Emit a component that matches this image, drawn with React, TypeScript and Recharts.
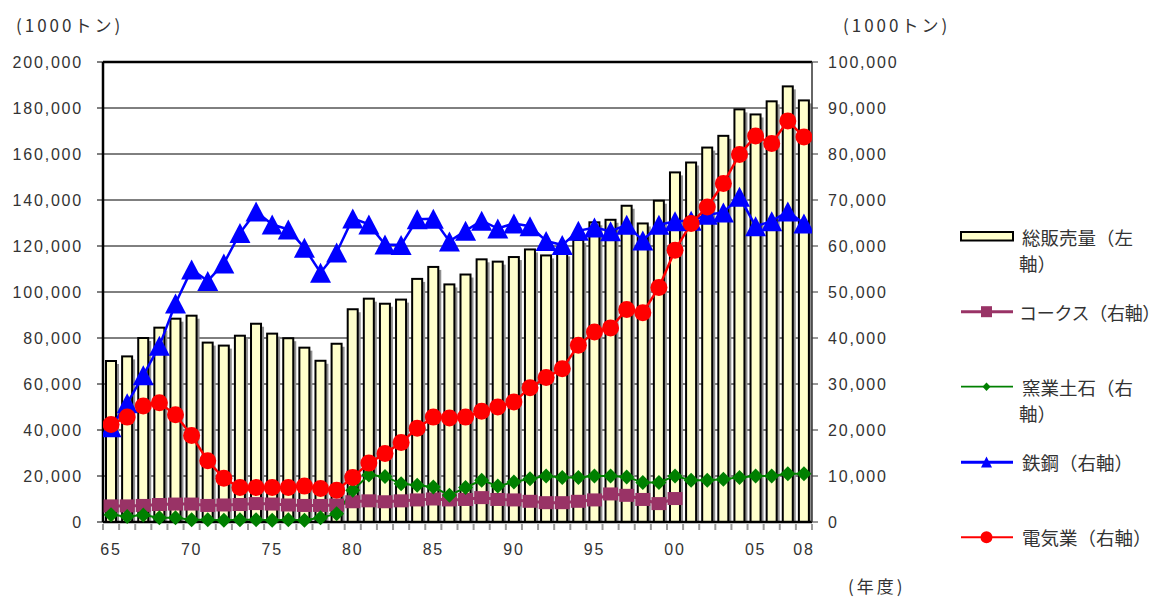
import React from 'react';
import { ComposedChart, Bar, Line, XAxis, YAxis, CartesianGrid, Legend, ReferenceLine } from 'recharts';

const years = [
  '1965','1966','1967','1968','1969','1970','1971','1972','1973','1974',
  '1975','1976','1977','1978','1979','1980','1981','1982','1983','1984',
  '1985','1986','1987','1988','1989','1990','1991','1992','1993','1994',
  '1995','1996','1997','1998','1999','2000','2001','2002','2003','2004',
  '2005','2006','2007','2008',
];
const labeledYears = ['1965','1970','1975','1980','1985','1990','1995','2000','2005','2008'];
const labeledTexts = ['65','70','75','80','85','90','95','00','05','08'];

const totalSales = [
  70000,72000,80000,84500,88400,89700,78000,76700,81000,86200,
  81900,79900,75800,70100,77500,92500,97100,94900,96700,105700,
  110900,103300,107600,114200,113200,115200,118500,115900,116800,122600,
  130300,131400,137500,129800,139700,152000,156300,162800,167900,179400,
  177200,182900,189400,183300,
];
const coke = [
  3500,3500,3600,3800,3900,3900,3600,3700,3800,4000,
  3900,3700,3600,3600,3700,4400,4600,4400,4600,4800,
  5000,4800,4900,5300,4900,4800,4500,4200,4200,4500,
  4800,6100,5800,4900,4000,5100,null,null,null,null,
  null,null,null,null,
];
const ceramics = [
  1600,1200,1500,900,900,500,500,400,500,500,
  400,500,400,900,1800,6900,10200,9900,8300,8000,
  7600,5800,7500,9100,7800,8700,9400,10000,9700,9700,
  10000,10000,9800,8600,8600,10000,9100,9100,9300,9700,
  10000,10000,10500,10500,
];
const steel = [
  20600,25800,31900,38300,47500,54900,52400,56200,62800,67500,
  64700,63600,59600,54200,58600,66000,64700,60300,60200,65800,
  65900,61000,63300,65500,63800,64900,64300,61100,60200,63300,
  64000,63200,64600,61200,64600,65400,65500,66800,67300,70700,
  64300,65400,67500,64900,
];
const electric = [
  21200,22800,25200,25900,23300,18800,13300,9500,7500,7500,
  7500,7500,7800,7300,6900,9700,12800,14900,17300,20400,
  22800,22600,22800,24100,25000,26100,29200,31400,33300,38400,
  41300,42200,46200,45500,51000,59100,64900,68500,73600,79900,
  83900,82300,87200,83700,
];

const leftTicks = [0,20000,40000,60000,80000,100000,120000,140000,160000,180000,200000];
const rightTicks = [0,10000,20000,30000,40000,50000,60000,70000,80000,90000,100000];

const seriesNames = {
  total: ['総販売量（左', '軸）'],
  coke: ['コークス（右軸）'],
  ceramics: ['窯業土石（右', '軸）'],
  steel: ['鉄鋼（右軸）'],
  electric: ['電気業（右軸）'],
};

const COLORS = {
  barFill: '#FFFFCC',
  coke: '#993366',
  ceramics: '#008000',
  steel: '#0000FF',
  electric: '#FF0000',
};

const data = years.map((y, i) => ({
  i,
  year: y,
  total: totalSales[i],
  coke: coke[i],
  ceramics: ceramics[i],
  steel: steel[i],
  electric: electric[i],
}));

const boundaryTicks = years.map((_, i) => i - 0.5).concat([years.length - 0.5]);
const labelTicks = labeledYears.map((y) => years.indexOf(y));
const xTicks = [...boundaryTicks, ...labelTicks].sort((a, b) => a - b);

const numFont = '"Liberation Sans", Arial, sans-serif';
const jpFont = '"Noto Sans CJK JP", sans-serif';

const XTick = (props: any) => {
  const { x, y, payload } = props;
  const v = payload.value;
  if (Number.isInteger(v)) {
    const idx = labeledYears.indexOf(years[v]);
    return (
      <text x={x} y={y + 27} textAnchor="middle" dominantBaseline="central"
        style={{ fontFamily: numFont, fontSize: 16, letterSpacing: '1.8px', fill: '#333' }}>
        {labeledTexts[idx]}
      </text>
    );
  }
  return <line x1={x} x2={x} y1={y + 2} y2={y + 8} stroke="#9a9a9a" strokeWidth={2} />;
};

const YTick = (props: any) => {
  const { x, y, payload, textAnchor } = props;
  return (
    <text x={x} y={y} textAnchor={textAnchor} dominantBaseline="central"
      style={{ fontFamily: numFont, fontSize: 16, letterSpacing: '1.8px', fill: '#333' }}>
      {Number(payload.value).toLocaleString('en-US')}
    </text>
  );
};

const BarShape = (props: any) => {
  const { x, y, width, height } = props;
  if (height == null || height <= 0) return <g />;
  return (
    <g>
      <rect x={x + 3} y={y + 3} width={width} height={Math.max(0, height - 3)} fill="#8f8f8f" />
      <rect x={x} y={y} width={width} height={height} fill={COLORS.barFill} stroke="#000" strokeWidth={2} />
    </g>
  );
};

const squareDot = (p: any) => {
  const { cx, cy, index, value } = p;
  if (cx == null || cy == null || value == null) return <g key={'sq' + index} />;
  return <rect key={'sq' + index} x={cx - 7.5} y={cy - 6.5} width={15} height={13} fill={COLORS.coke} />;
};
const diamondDot = (p: any) => {
  const { cx, cy, index, value } = p;
  if (cx == null || cy == null || value == null) return <g key={'dm' + index} />;
  return (
    <polygon key={'dm' + index}
      points={`${cx},${cy - 7.5} ${cx + 7.5},${cy} ${cx},${cy + 7.5} ${cx - 7.5},${cy}`}
      fill={COLORS.ceramics} />
  );
};
const triangleDot = (p: any) => {
  const { cx, cy, index, value } = p;
  if (cx == null || cy == null || value == null) return <g key={'tr' + index} />;
  return (
    <polygon key={'tr' + index}
      points={`${cx},${cy - 10} ${cx + 10.5},${cy + 10} ${cx - 10.5},${cy + 10}`}
      fill={COLORS.steel} />
  );
};
const circleDot = (p: any) => {
  const { cx, cy, index, value } = p;
  if (cx == null || cy == null || value == null) return <g key={'ci' + index} />;
  return <circle key={'ci' + index} cx={cx} cy={cy} r={8.5} fill={COLORS.electric} />;
};

const legendText = { fontFamily: jpFont, fontSize: 18.5, fill: '#333' } as const;

const LegendBox = () => (
  <svg width={208} height={340} style={{ overflow: 'visible', display: 'block' }}>
    {/* total sales */}
    <rect x={6} y={10} width={52} height={8.5} fill={COLORS.barFill} stroke="#000" strokeWidth={2} />
    <text x={67} y={14.7} dominantBaseline="central" style={legendText}>{seriesNames.total[0]}</text>
    <text x={64} y={41.3} dominantBaseline="central" style={legendText}>{seriesNames.total[1]}</text>
    {/* coke */}
    <line x1={6} x2={58} y1={89.7} y2={89.7} stroke={COLORS.coke} strokeWidth={3} />
    <rect x={26} y={84.2} width={11} height={11} fill={COLORS.coke} />
    <text x={64} y={89.7} dominantBaseline="central" style={{ ...legendText, fontSize: 18, letterSpacing: '-0.3px' }}>{seriesNames.coke[0]}</text>
    {/* ceramics */}
    <line x1={6} x2={58} y1={164.7} y2={164.7} stroke={COLORS.ceramics} strokeWidth={1.8} />
    <polygon points={`31.5,160.5 35.5,164.7 31.5,168.9 27.5,164.7`} fill={COLORS.ceramics} />
    <text x={67} y={164.7} dominantBaseline="central" style={legendText}>{seriesNames.ceramics[0]}</text>
    <text x={64} y={191.3} dominantBaseline="central" style={legendText}>{seriesNames.ceramics[1]}</text>
    {/* steel */}
    <line x1={6} x2={58} y1={240.3} y2={240.3} stroke={COLORS.steel} strokeWidth={3} />
    <polygon points={`31.5,234.5 37,245.5 26,245.5`} fill={COLORS.steel} />
    <text x={67} y={240.3} dominantBaseline="central" style={legendText}>{seriesNames.steel[0]}</text>
    {/* electric */}
    <line x1={6} x2={58} y1={315.3} y2={315.3} stroke={COLORS.electric} strokeWidth={2} />
    <circle cx={31.5} cy={315.3} r={6} fill={COLORS.electric} />
    <text x={67} y={315.3} dominantBaseline="central" style={legendText}>{seriesNames.electric[0]}</text>
  </svg>
);

const titleStyle: React.CSSProperties = {
  position: 'absolute',
  fontFamily: jpFont,
  fontSize: 17,
  letterSpacing: '3px',
  color: '#333',
  whiteSpace: 'nowrap',
  lineHeight: '20px',
};

export default function App() {
  return (
    <div style={{ position: 'absolute', left: 0, top: 0, width: 1163, height: 599, background: '#fff', overflow: 'hidden' }}>
      <ComposedChart
        width={1163}
        height={599}
        data={data}
        margin={{ top: 62, right: 251, bottom: 37, left: 0 }}
      >
        <CartesianGrid xAxisId="x" yAxisId="left" vertical={false} stroke="#000" strokeWidth={1} />
        <XAxis
          xAxisId="x"
          dataKey="i"
          type="number"
          domain={[-0.5, years.length - 0.5]}
          allowDataOverflow
          ticks={xTicks}
          interval={0}
          tick={<XTick />}
          tickLine={false}
          tickSize={0}
          tickMargin={0}
          axisLine={{ stroke: '#000', strokeWidth: 2.5 }}
          height={40}
        />
        <YAxis
          yAxisId="left"
          orientation="left"
          width={103}
          domain={[0, 200000]}
          ticks={leftTicks}
          interval={0}
          tick={<YTick />}
          tickSize={6}
          tickMargin={14}
          tickLine={{ stroke: '#000', strokeWidth: 1 }}
          axisLine={{ stroke: '#000', strokeWidth: 2.5 }}
        />
        <YAxis
          yAxisId="right"
          orientation="right"
          width={100}
          domain={[0, 100000]}
          ticks={rightTicks}
          interval={0}
          tick={<YTick />}
          tickSize={6}
          tickMargin={10}
          tickLine={{ stroke: '#333', strokeWidth: 1 }}
          axisLine={{ stroke: '#333', strokeWidth: 1.5 }}
        />
        <ReferenceLine xAxisId="x" yAxisId="left" y={200000} stroke="#000" strokeWidth={2.5} ifOverflow="visible" />
        <Bar xAxisId="x" yAxisId="left" dataKey="total" barSize={10} shape={BarShape} isAnimationActive={false} />
        <Line xAxisId="x" yAxisId="right" dataKey="coke" stroke={COLORS.coke} strokeWidth={3} dot={squareDot} activeDot={false} isAnimationActive={false} />
        <Line xAxisId="x" yAxisId="right" dataKey="ceramics" stroke={COLORS.ceramics} strokeWidth={2} dot={diamondDot} activeDot={false} isAnimationActive={false} />
        <Line xAxisId="x" yAxisId="right" dataKey="steel" stroke={COLORS.steel} strokeWidth={2.5} dot={triangleDot} activeDot={false} isAnimationActive={false} />
        <Line xAxisId="x" yAxisId="right" dataKey="electric" stroke={COLORS.electric} strokeWidth={2.5} dot={circleDot} activeDot={false} isAnimationActive={false} />
        <Legend
          layout="horizontal"
          verticalAlign="middle"
          align="center"
          content={<LegendBox />}
          wrapperStyle={{ left: 955, top: 222, width: 208, height: 340 }}
        />
      </ComposedChart>
      <div style={{ ...titleStyle, left: 16, top: 15 }}>(1000トン)</div>
      <div style={{ ...titleStyle, left: 843, top: 15 }}>(1000トン)</div>
      <div style={{ ...titleStyle, left: 848, top: 576 }}>(年度)</div>
    </div>
  );
}
